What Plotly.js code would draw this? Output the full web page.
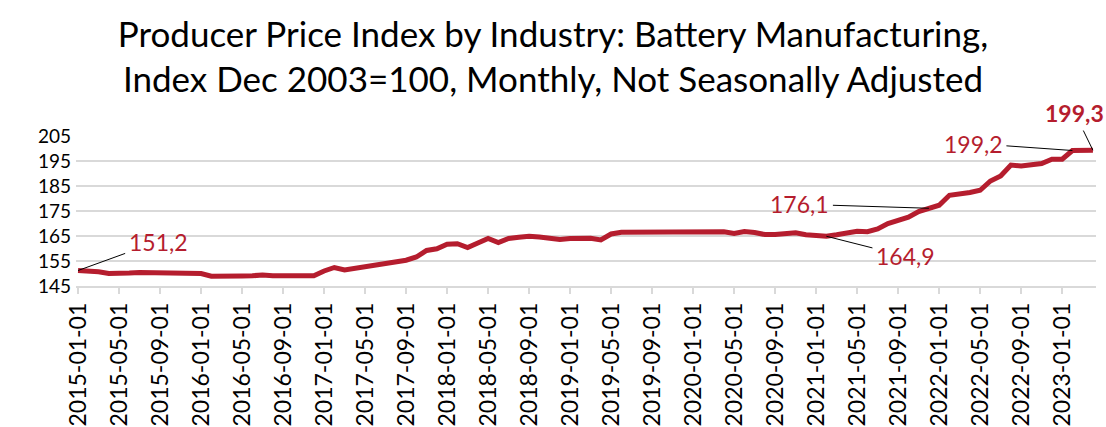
<!DOCTYPE html>
<html>
<head>
<meta charset="utf-8">
<script src="https://cdn.plot.ly/plotly-3.0.1.min.js"></script>
<style>html,body{margin:0;padding:0;background:#fff;}#chart{width:1106px;height:427px;}</style>
</head>
<body>
<div id="chart"></div>
<script>
// Monthly values, 2015-01 .. 2023-04
const values2015 = [151.2,151.0,150.7,150.0,149.9,150.2,150.4,150.3,150.2,150.1,150.1,150.1];
const values2016 = [150.0,148.9,148.8,148.9,149.0,149.1,149.4,149.1,149.0,148.9,148.8,149.1];
const values2017 = [151.0,152.4,151.4,152.0,152.6,153.1,153.6,154.4,155.3,156.6,159.2,159.9];
const values2018 = [161.7,161.9,160.4,162.2,164.0,162.4,164.0,164.5,164.9,164.6,164.0,163.6];
const values2019 = [164.0,164.0,164.1,163.4,165.8,166.5,166.5,166.4,166.4,166.6,166.5,166.4];
const values2020 = [166.5,166.7,166.7,166.7,166.0,166.8,166.4,165.6,165.6,165.7,166.3,165.5];
const values2021 = [165.3,164.9,165.5,166.3,166.9,166.7,167.8,170.0,171.2,172.5,174.8,176.1];
const values2022 = [177.3,181.3,181.7,182.4,183.3,187.0,189.0,193.4,193.0,193.3,194.0,195.7];
const values2023 = [195.7,199.2,199.2,199.3];
const startYear = 2015;

const yTicks = [145,155,165,175,185,195,205];
// labelled points: [category date, bold?, text offset x, text offset y]
const labelDates = ['2015-01-01','2021-02-01','2021-12-01','2023-02-01','2023-04-01'];
const labelBold  = [false,false,false,false,true];
const labelAx    = [80,79,-129,-99,-18];
const labelAy    = [-29,20,-4,-7,-37];

const values = [].concat(values2015,values2016,values2017,values2018,values2019,values2020,values2021,values2022,values2023);
const dates = values.map((v,i)=>{
  const y = startYear + Math.floor(i/12);
  const m = (i%12)+1;
  return y + '-' + String(m).padStart(2,'0') + '-01';
});

const red = '#B51D2E';
const fmt = v => v.toFixed(1).replace('.', ',');

const annotations = labelDates.map((d,k)=>{
  const v = values[dates.indexOf(d)];
  return {
    x: d, y: v, xref:'x', yref:'y',
    text: labelBold[k] ? '<b>'+fmt(v)+'</b>' : fmt(v),
    showarrow: true, arrowhead: 0, arrowwidth: 1, arrowcolor: '#000',
    ax: labelAx[k], ay: labelAy[k], standoff: 0, startstandoff: 2,
    font: {family: 'Lato, sans-serif', size: 23, color: red}
  };
});

const trace = {
  x: dates, y: values, type: 'scatter', mode: 'lines',
  line: {color: red, width: 5},
  hoverinfo: 'x+y'
};

const layout = {
  width: 1106, height: 427,
  margin: {l: 76, r: 10, t: 136, b: 141},
  paper_bgcolor: '#fff', plot_bgcolor: '#fff',
  showlegend: false,
  title: {
    text: 'Producer Price Index by Industry: Battery Manufacturing,<br>Index Dec 2003=100, Monthly, Not Seasonally Adjusted',
    font: {family: 'Lato, sans-serif', size: 35, color: '#000'},
    x: 0.5, xanchor: 'center', y: 0.89, yanchor: 'top'
  },
  xaxis: {
    type: 'category',
    range: [-0.2, 99.3],
    tickmode: 'linear', tick0: 0, dtick: 4,
    tickangle: -90,
    ticks: 'outside', ticklen: 6, tickcolor: '#D9D9D9', tickwidth: 1.5,
    showgrid: false,
    showline: true, linecolor: '#D9D9D9', linewidth: 1.5,
    tickfont: {family: 'Lato, sans-serif', size: 23, color: '#000'},
    fixedrange: true
  },
  yaxis: {
    range: [145, 205],
    tickvals: yTicks,
    ticktext: yTicks.map(String),
    showgrid: true, gridcolor: '#D9D9D9', gridwidth: 1.5,
    zeroline: false, showline: false,
    ticks: '', ticklabelstandoff: 4,
    tickfont: {family: 'Lato, sans-serif', size: 19, color: '#000'},
    fixedrange: true
  },
  annotations: annotations
};

Plotly.newPlot('chart', [trace], layout, {displayModeBar: false, staticPlot: true});
</script>
</body>
</html>
